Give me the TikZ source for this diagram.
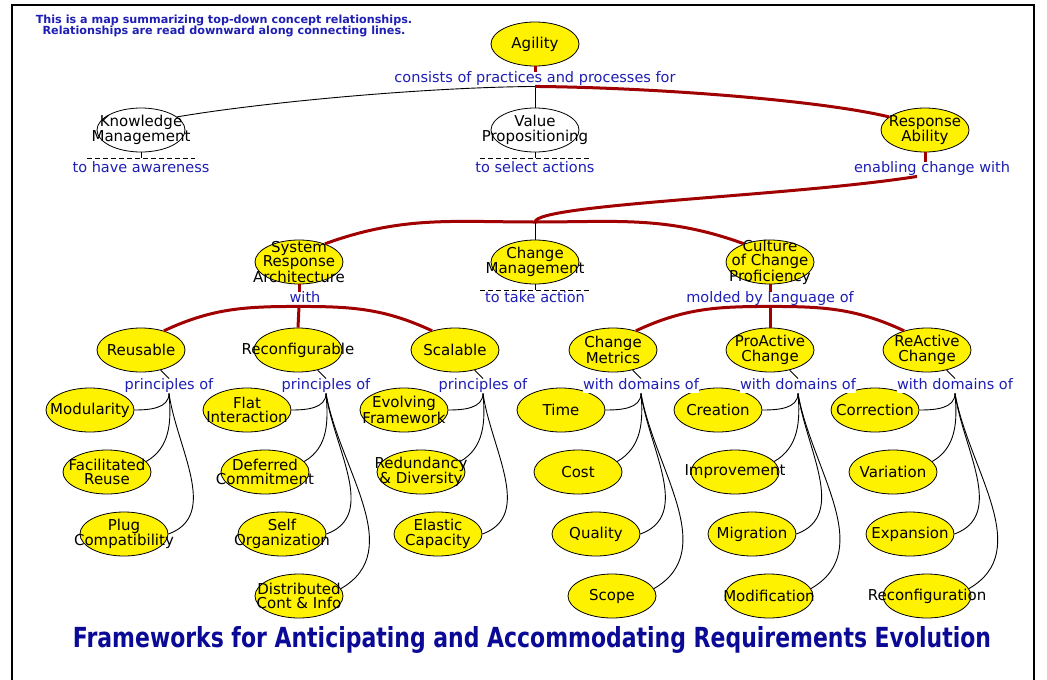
\documentclass[tikz,border=0pt]{standalone}
\usepackage{fontspec}
\setmainfont{DejaVu Sans}
\usetikzlibrary{shapes.geometric}
\definecolor{cred}{RGB}{160,0,0}
\definecolor{cblue}{RGB}{30,30,180}
\definecolor{ttl}{RGB}{10,10,150}
\tikzset{
  shp/.style={ellipse, draw=black, line width=0.8pt, minimum width=88pt, minimum height=44pt, inner sep=0pt},
  yel/.style={shp, fill=yellow},
  wht/.style={shp, fill=white},
  ctext/.style={align=center, font=\fontsize{15}{14.5}\selectfont, inner sep=0pt, text=black},
  rel/.style={font=\fontsize{14.5}{14.5}\selectfont, text=cblue, fill=white, inner sep=0.5pt, text height=10.5pt, text depth=3pt},
  redline/.style={draw=cred, line width=3pt},
  blk/.style={draw=black, line width=0.9pt},
  dsh/.style={draw=black, line width=0.9pt, dash pattern=on 5pt off 3pt},
}
\newcommand\cpt[5]{\node[#5] (#1) at (#2,-#3) {}; \node[ctext] at (#1) {#4};}
\begin{document}
\begin{tikzpicture}[x=1pt,y=1pt]
\useasboundingbox (0,0) rectangle (1047,-680);
\draw[line width=1.8pt] (12,-685) -- (12,-5) -- (1034,-5) -- (1034,-685);

% note and title
\node[text=cblue, font=\bfseries\fontsize{11.2}{11.5}\selectfont, align=center] (note) at (224,-26)
  {This is a map summarizing top-down concept relationships.\\Relationships are read downward along connecting lines.};
\node[text=ttl, anchor=base] (title) at (532,-647)
  {\resizebox{918pt}{21pt}{\bfseries Frameworks for Anticipating and Accommodating Requirements Evolution}};

% level 0/1
\cpt{A}{535}{44}{Agility}{yel}
\cpt{KM}{141}{130}{Knowledge\\Management}{wht}
\cpt{VP}{535}{130}{Value\\Propositioning}{wht}
\cpt{RA}{925}{130}{Response\\Ability}{yel}
% level 2
\cpt{SRA}{299}{262}{System\\Response\\Architecture}{yel}
\cpt{CM}{535}{262}{Change\\Management}{yel}
\cpt{CCP}{770}{262}{Culture\\of Change\\Proficiency}{yel}
% level 3
\cpt{REU}{141}{350}{Reusable}{yel}
\cpt{RCF}{298}{350}{Reconfigurable}{yel}
\cpt{SCA}{455}{350}{Scalable}{yel}
\cpt{CHM}{613}{350}{Change\\Metrics}{yel}
\cpt{PRO}{770}{350}{ProActive\\Change}{yel}
\cpt{REA}{927}{350}{ReActive\\Change}{yel}
% leaves
\cpt{MOD}{90}{410}{Modularity}{yel}
\cpt{FAC}{107}{472}{Facilitated\\Reuse}{yel}
\cpt{PLG}{124}{534}{Plug\\Compatibility}{yel}
\cpt{FLT}{247}{410}{Flat\\Interaction}{yel}
\cpt{DEF}{265}{472}{Deferred\\Commitment}{yel}
\cpt{SLF}{282}{534}{Self\\Organization}{yel}
\cpt{DST}{299}{596}{Distributed\\Cont \& Info}{yel}
\cpt{EVO}{404}{410}{Evolving\\Framework}{yel}
\cpt{RED}{421}{472}{Redundancy\\\& Diversity}{yel}
\cpt{ELA}{438}{534}{Elastic\\Capacity}{yel}
\cpt{TIM}{561}{410}{Time}{yel}
\cpt{CST}{578}{472}{Cost}{yel}
\cpt{QUA}{596}{534}{Quality}{yel}
\cpt{SCO}{612}{596}{Scope}{yel}
\cpt{CRE}{718}{410}{Creation}{yel}
\cpt{IMP}{735}{472}{Improvement}{yel}
\cpt{MIG}{752}{534}{Migration}{yel}
\cpt{MDF}{769}{596}{Modification}{yel}
\cpt{COR}{875}{410}{Correction}{yel}
\cpt{VAR}{893}{472}{Variation}{yel}
\cpt{EXP}{910}{534}{Expansion}{yel}
\cpt{RCN}{927}{596}{Reconfiguration}{yel}

% relation labels
\node[rel] (L1) at (535,-79) {consists of practices and processes for};
\node[rel] (LKM) at (141,-169) {to have awareness};
\node[rel] (LVP) at (535,-169) {to select actions};
\node[rel] (LRA) at (932,-169) {enabling change with};
\node[rel] (LSRA) at (305,-299) {with};
\node[rel] (LCM) at (535,-299) {to take action};
\node[rel] (LCCP) at (770,-299) {molded by language of};
\node[rel] (GREU) at (169,-386) {principles of};
\node[rel] (GRCF) at (326,-386) {principles of};
\node[rel] (GSCA) at (483,-386) {principles of};
\node[rel] (GCHM) at (641,-386) {with domains of};
\node[rel] (GPRO) at (798,-386) {with domains of};
\node[rel] (GREA) at (955,-386) {with domains of};

% top links
\draw[redline] (A.south) -- (L1.north);
\coordinate (J1) at (L1.south);
\draw[blk] (J1) .. controls +(-115,-1) and +(82,14) .. (KM.20);
\draw[blk] (J1) -- (VP.north);
\draw[redline] (J1) .. controls +(115,-1) and +(-70,17) .. (RA.160);

% dashed stubs
\coordinate (DKM) at (141,-158);
\draw[blk] (KM.south) -- (DKM);
\draw[dsh] ([xshift=-54pt]DKM) -- ([xshift=54pt]DKM);
\coordinate (DVP) at (535,-158);
\draw[blk] (VP.south) -- (DVP);
\draw[dsh] ([xshift=-55pt]DVP) -- ([xshift=55pt]DVP);
\coordinate (DCM) at (535,-290);
\draw[blk] (CM.south) -- (DCM);
\draw[dsh] ([xshift=-55pt]DCM) -- ([xshift=55pt]DCM);

% response ability
\draw[redline] (RA.south) -- (RA.south |- LRA.north);
\coordinate (J2) at ([xshift=-15pt]LRA.south);
\coordinate (J3) at (535,-222);
\draw[redline] (J2) .. controls +(-127,-20) and +(1,18) .. (J3);
\draw[redline] (J3) to[out=180,in=20] (SRA.35);
\draw[redline] (J3) to[out=0,in=160] (CCP.145);
\draw[blk] (J3) -- (CM.north);

% SRA
\draw[redline] (SRA.south) -- (SRA.south |- LSRA.north);
\coordinate (J4) at (SRA.south |- LSRA.south);
\draw[redline] (J4) -- (RCF.north);
\draw[redline] (J4) to[out=180,in=25] (REU.40);
\draw[redline] (J4) to[out=0,in=155] (SCA.140);

% CCP
\draw[redline] (CCP.south) -- (CCP.south |- LCCP.north);
\coordinate (J5) at (CCP.south |- LCCP.south);
\draw[redline] (J5) -- (PRO.north);
\draw[redline] (J5) to[out=180,in=25] (CHM.40);
\draw[redline] (J5) to[out=0,in=155] (REA.140);

% groups
\draw[blk] (REU) -- (GREU.north);
\draw[blk] (GREU.south) to[out=-90,in=0] (MOD.east);
\draw[blk] (GREU.south) to[out=-85,in=30] (FAC.15);
\draw[blk] (GREU.south) to[out=-82,in=20] (PLG.east);

\draw[blk] (RCF) -- (GRCF.north);
\draw[blk] (GRCF.south) to[out=-90,in=0] (FLT.east);
\draw[blk] (GRCF.south) to[out=-85,in=30] (DEF.15);
\draw[blk] (GRCF.south) to[out=-82,in=20] (SLF.east);
\draw[blk] (GRCF.south) to[out=-80,in=30] (DST.10);

\draw[blk] (SCA) -- (GSCA.north);
\draw[blk] (GSCA.south) to[out=-90,in=0] (EVO.east);
\draw[blk] (GSCA.south) to[out=-85,in=30] (RED.15);
\draw[blk] (GSCA.south) to[out=-82,in=20] (ELA.east);

\draw[blk] (CHM) -- (GCHM.north);
\draw[blk] (GCHM.south) to[out=-90,in=0] (TIM.east);
\draw[blk] (GCHM.south) to[out=-85,in=30] (CST.15);
\draw[blk] (GCHM.south) to[out=-82,in=20] (QUA.east);
\draw[blk] (GCHM.south) to[out=-80,in=30] (SCO.10);

\draw[blk] (PRO) -- (GPRO.north);
\draw[blk] (GPRO.south) to[out=-90,in=0] (CRE.east);
\draw[blk] (GPRO.south) to[out=-85,in=30] (IMP.15);
\draw[blk] (GPRO.south) to[out=-82,in=20] (MIG.east);
\draw[blk] (GPRO.south) to[out=-80,in=30] (MDF.10);

\draw[blk] (REA) -- (GREA.north);
\draw[blk] (GREA.south) to[out=-90,in=0] (COR.east);
\draw[blk] (GREA.south) to[out=-85,in=30] (VAR.15);
\draw[blk] (GREA.south) to[out=-82,in=20] (EXP.east);
\draw[blk] (GREA.south) to[out=-80,in=30] (RCN.10);
\end{tikzpicture}
\end{document}
